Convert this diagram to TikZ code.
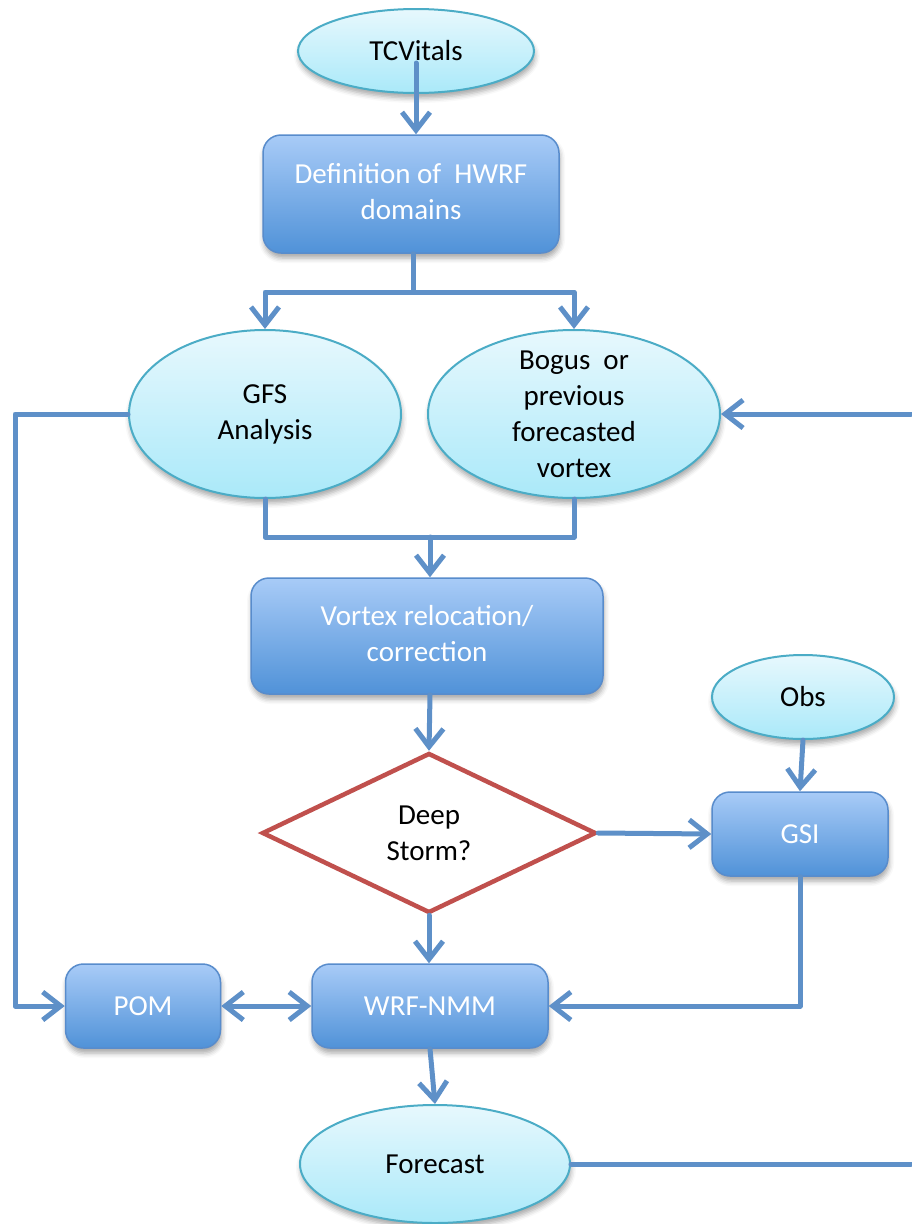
\documentclass[tikz,border=0pt]{standalone}
\usepackage{fontspec}
\setmainfont{Carlito}
\usetikzlibrary{shapes.geometric,arrows.meta,shadows.blur,calc}

\definecolor{linec}{RGB}{94,144,200}
\definecolor{boxtop}{RGB}{168,203,247}
\definecolor{boxbot}{RGB}{80,146,216}
\definecolor{boxedge}{RGB}{88,140,204}
\definecolor{elltop}{RGB}{231,248,253}
\definecolor{ellbot}{RGB}{170,233,249}
\definecolor{elledge}{RGB}{75,172,198}
\definecolor{diaedge}{RGB}{192,80,77}

% two centred lines, lifted a little inside their box
\newcommand{\twolines}[2]{\raisebox{4pt}{\begin{tabular}{@{}c@{}}#1\\#2\end{tabular}}}

\tikzset{
  lbl/.style={font=\fontsize{29pt}{36pt}\selectfont, align=center},
  procbox/.style={lbl, draw=boxedge, line width=1.5pt, rounded corners=18pt,
    top color=boxtop, bottom color=boxbot, text=white, inner sep=0pt,
    blur shadow={shadow xshift=1pt, shadow yshift=-5pt, shadow blur radius=5pt, shadow opacity=35}},
  term/.style={lbl, ellipse, draw=elledge, line width=2pt,
    top color=elltop, bottom color=ellbot, text=black, inner sep=0pt,
    blur shadow={shadow xshift=1pt, shadow yshift=-5pt, shadow blur radius=5pt, shadow opacity=35}},
  decide/.style={lbl, diamond, draw=diaedge, line width=4.5pt, fill=white,
    text=black, inner sep=0pt},
  link/.style={draw=linec, line width=5pt, line cap=round, line join=round},
  conn/.style={link, -{Straight Barb[length=18pt,width=28pt]}},
  bothway/.style={link, {Straight Barb[length=18pt,width=28pt]}-{Straight Barb[length=18pt,width=28pt]}}
}

\begin{document}
\begin{tikzpicture}[x=1pt, y=-1pt]
\useasboundingbox (0,0) rectangle (911,1224);

% terminals and process steps
\node[term, minimum width=236pt, minimum height=84pt] (tc) at (416,51) {TCVitals};
\node[procbox, minimum width=296pt, minimum height=118pt] (def) at (411,194)
  {\twolines{Definition of~ HWRF}{domains}};
\node[term, minimum width=272pt, minimum height=168pt] (gfs) at (265,414)
  {GFS\\Analysis};
\node[term, minimum width=292pt, minimum height=168pt, inner ysep=-13pt] (bog) at (574,414)
  {Bogus~ or\\previous\\forecasted\\vortex};
\node[procbox, minimum width=352pt, minimum height=116pt] (vor) at (427,636)
  {\twolines{Vortex relocation/}{correction}};
\node[decide, minimum width=334pt, minimum height=160pt] (deep) at (429,833)
  {Deep\\Storm?};
\node[term, minimum width=182pt, minimum height=84pt] (obs) at (803,697) {Obs};
\node[procbox, minimum width=176pt, minimum height=84pt] (gsi) at (800,834) {GSI};
\node[procbox, minimum width=155pt, minimum height=84pt] (pom) at (143,1006) {POM};
\node[procbox, minimum width=236pt, minimum height=84pt] (wrf) at (430,1006) {WRF-NMM};
\node[term, minimum width=270pt, minimum height=118pt] (fc) at (435,1164) {Forecast};

% junction points and free ends
\coordinate (split) at (413,292);
\coordinate (merge) at (430,537);
\coordinate (lft) at (15,414);
\coordinate (rgt) at (911,414);
\coordinate (fcout) at (911,1164);

% connectors
\draw[conn] ([yshift=-12pt]tc.center) -- (def.north -| tc.center);
\draw[link] (def.south -| split) -- (split);
\draw[conn] (split) -| (gfs.north);
\draw[conn] (split) -| (bog.north);
\draw[link] (gfs.south) |- (merge) -| (bog.south);
\draw[conn] (merge) -- (vor.north -| merge);
\draw[conn] (vor.south -| merge) -- (deep.north);
\draw[conn] (deep.east) -- (gsi.west);
\draw[conn] (obs.south) -- (gsi.north);
\draw[conn] (deep.south) -- (wrf.north -| deep.south);
\draw[conn] (gsi.south) |- (wrf.east);
\draw[bothway] (pom.east) -- (wrf.west);
\draw[conn] (gfs.west) -- (lft) |- (pom.west);
\draw[conn] (rgt) -- (bog.east);
\draw[conn] (wrf.south) -- (fc.north);
\draw[link] (fc.east) -- (fcout);
\end{tikzpicture}
\end{document}
